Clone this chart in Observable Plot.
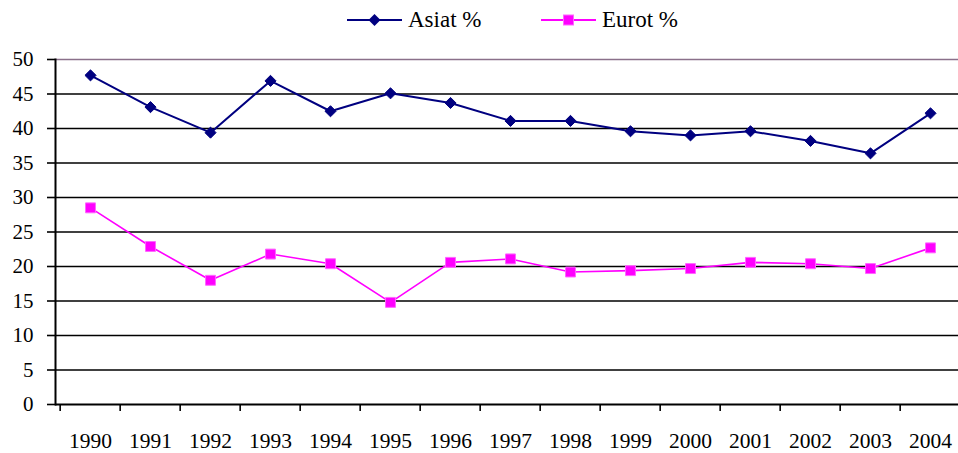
<!DOCTYPE html>
<html>
<head>
<meta charset="utf-8">
<script src="https://cdn.jsdelivr.net/npm/d3@7"></script>
<script src="https://cdn.jsdelivr.net/npm/@observablehq/plot@0.6"></script>
</head>
<body style="margin:0;padding:0;background:#fff;font-family:'Liberation Serif';">
<div id="wrap" style="position:relative;width:958px;height:453px;overflow:hidden;">
<div id="legend" style="position:relative;height:40px;font-family:'Liberation Serif';font-size:23px;"></div>
<div id="chart"></div>
</div>
<script>
const years = ["1990","1991","1992","1993","1994","1995","1996","1997","1998","1999","2000","2001","2002","2003","2004"];
const asiat = [47.7, 43.1, 39.4, 46.9, 42.5, 45.1, 43.7, 41.1, 41.1, 39.6, 39.0, 39.6, 38.2, 36.4, 42.2];
const eurot = [28.5, 22.9, 18.0, 21.8, 20.4, 14.8, 20.6, 21.1, 19.2, 19.4, 19.7, 20.6, 20.4, 19.7, 22.7];
const yTicks = [0, 5, 10, 15, 20, 25, 30, 35, 40, 45, 50];
const seriesNames = ["Asiat %", "Eurot %"];
const colors = ["#000080", "#FF00FF"];

const asiatData = years.map((y, i) => ({year: y, value: asiat[i]}));
const eurotData = years.map((y, i) => ({year: y, value: eurot[i]}));

// Legend
const legend = document.getElementById("legend");
const legendLeft = [347, 541];
seriesNames.forEach((name, i) => {
  const div = document.createElement("div");
  div.setAttribute("style", `position:absolute;top:0px;left:${legendLeft[i]}px;height:40px;display:flex;align-items:center;white-space:nowrap;font-family:'Liberation Serif';font-size:23px;`);
  const marker = i === 0
    ? `<polygon points="27.5,14 33.5,20 27.5,26 21.5,20" fill="${colors[i]}"/>`
    : `<rect x="22.5" y="15" width="10" height="10" fill="${colors[i]}" stroke="#ff66ff" stroke-width="1"/>`;
  div.innerHTML = `<svg width="55" height="40" style="display:block;margin-right:6px"><line x1="0" x2="55" y1="20" y2="20" stroke="${colors[i]}" stroke-width="2"/>${marker}</svg><span style="font-family:'Liberation Serif';">${name}</span>`;
  legend.appendChild(div);
});

const width = 968, marginLeft = 55, marginRight = 3;
const halfStep = (width - marginLeft - marginRight) / years.length / 2;

const chart = Plot.plot({
  width,
  height: 413,
  marginTop: 19,
  marginBottom: 49,
  marginLeft,
  marginRight,
  style: {fontFamily: "Liberation Serif", fontSize: "21px", color: "#000", background: "#fff", maxWidth: "none", overflow: "visible"},
  x: {type: "point", domain: years, padding: 0.5},
  y: {domain: [0, 50]},
  marks: [
    Plot.ruleY(yTicks.filter(d => d > 0 && d < 50), {stroke: "#000", strokeWidth: 1.7}),
    Plot.ruleY([50], {stroke: "#8a708a", strokeWidth: 1.6}),
    Plot.ruleY([0], {stroke: "#000", strokeWidth: 2}),
    Plot.frame({anchor: "left", stroke: "#000", strokeWidth: 2}),
    Plot.axisY({ticks: yTicks, tickSize: 8, tickPadding: 14, strokeWidth: 1.6, fontSize: 21, fontFamily: "Liberation Serif", label: null}),
    Plot.axisX({tickSize: 7, dx: -halfStep, tickFormat: () => "", strokeWidth: 1.6, label: null}),
    Plot.axisX({tickSize: 0, tickPadding: 28, fontSize: 21.5, fontFamily: "Liberation Serif", label: null}),
    Plot.line(eurotData, {x: "year", y: "value", stroke: colors[1], strokeWidth: 1.6}),
    Plot.line(asiatData, {x: "year", y: "value", stroke: colors[0], strokeWidth: 2}),
    Plot.dot(eurotData, {x: "year", y: "value", symbol: "square", r: 5.6, fill: colors[1], stroke: "#ff66ff", strokeWidth: 1}),
    Plot.dot(asiatData, {x: "year", y: "value", symbol: "diamond2", r: 5, fill: colors[0], stroke: colors[0], strokeWidth: 1})
  ]
});
document.getElementById("chart").appendChild(chart);
</script>
</body>
</html>
